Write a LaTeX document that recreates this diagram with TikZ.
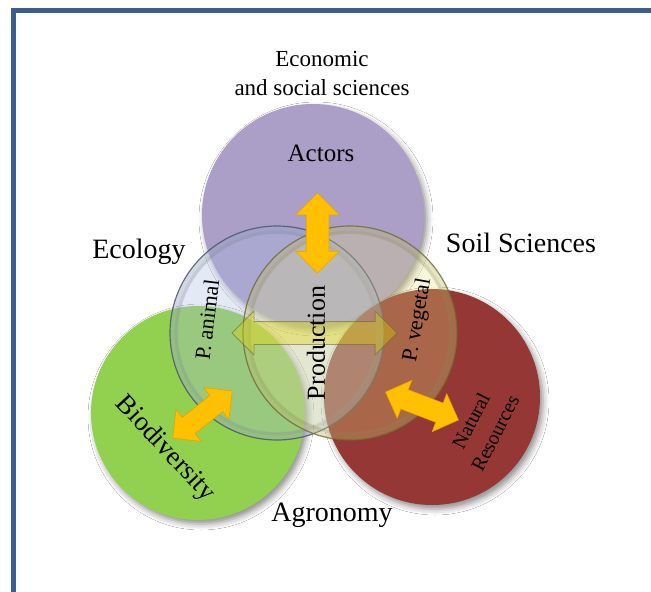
\documentclass[tikz,border=0pt]{standalone}
\usepackage{fontspec}
\setmainfont{Liberation Serif}
\usetikzlibrary{shapes.arrows,shadows.blur}
\definecolor{framec}{HTML}{3C5E8E}
\definecolor{purpc}{HTML}{AB9EC7}
\definecolor{greenc}{HTML}{92D050}
\definecolor{redc}{HTML}{953735}
\definecolor{orangec}{HTML}{FFC000}
\definecolor{orangeedge}{HTML}{E8A200}
\definecolor{blueglass}{HTML}{A9BDE3}
\definecolor{blueedge}{HTML}{46526A}
\definecolor{yelglass}{HTML}{E4E27A}
\definecolor{yeledge}{HTML}{6E6C30}
\tikzset{
  disc/.style={blur shadow={shadow xshift=3pt,shadow yshift=-4pt,shadow blur radius=6pt,shadow opacity=45}},
  dblarrow/.style={double arrow, draw=orangeedge, fill=orangec, line width=0.6pt,
     inner xsep=0pt, inner ysep=10pt, double arrow head extend=10pt},
  lbl/.style={inner sep=0pt, text=black},
}
\begin{document}
\begin{tikzpicture}[x=1pt,y=1pt]
\useasboundingbox (0,0) rectangle (651,-592);
\fill[white] (0,0) rectangle (651,-592);
% frame
\draw[framec, line width=5pt] (13.5,-620) -- (13.5,-10) -- (670,-10);
% opaque discs
\fill[purpc, disc] (313,-215) circle (111pt);
\fill[greenc, disc] (198,-413) circle (107pt);
\fill[redc, disc] (432,-397) circle (108pt);
% glass discs
\fill[blueglass, fill opacity=0.32] (277,-333) circle (107pt);
\draw[blueedge!70, line width=8pt, opacity=0.16] (277,-333) circle (103pt);
\draw[blueedge!70, line width=3pt, opacity=0.16] (277,-333) circle (101pt);
\draw[blueedge, line width=1.2pt, opacity=0.8] (277,-333) circle (107pt);
\fill[yelglass, fill opacity=0.28] (350,-333) circle (107pt);
\draw[yeledge!80, line width=8pt, opacity=0.16] (350,-333) circle (103pt);
\draw[yeledge!80, line width=3pt, opacity=0.16] (350,-333) circle (101pt);
\draw[yeledge, line width=1.2pt, opacity=0.8] (350,-333) circle (107pt);
% arrows
\node[dblarrow, inner ysep=11pt, double arrow head extend=10.5pt, minimum height=80pt, rotate=90] (arrA) at (317.5,-233) {};
\node[double arrow, draw=yeledge, fill=yellow!75!olive, fill opacity=0.35, draw opacity=0.6,
      line width=0.8pt, inner xsep=0pt, inner ysep=11pt, double arrow head extend=10.5pt,
      minimum height=165pt] (arrP) at (314.5,-333) {};
\node[dblarrow, minimum height=76pt, rotate=38.5] (arrB) at (202.5,-414.5) {};
\node[dblarrow, minimum height=78pt, rotate=-21] (arrN) at (422,-406) {};
% texts
\node[lbl, align=center, font=\fontsize{23}{29}\selectfont] (eco) at (322,-73) {Economic\\and social sciences};
\node[lbl, font=\fontsize{25}{30}\selectfont] (act) at (321,-153) {Actors};
\node[lbl, font=\fontsize{28}{32}\selectfont] (ecol) at (139,-252) {Ecology};
\node[lbl, font=\fontsize{28}{32}\selectfont] (soil) at (521,-243) {Soil Sciences};
\node[lbl, font=\fontsize{28}{32}\selectfont] (agro) at (332,-515) {Agronomy};
\node[lbl, rotate=90, font=\fontsize{26}{30}\selectfont] (prod) at (316,-343) {Production};
\node[lbl, rotate=83, font=\fontsize{22}{25}\selectfont] (pan) at (207,-320) {P. animal};
\node[lbl, rotate=80, font=\fontsize{22}{25}\selectfont] (pveg) at (418,-320) {P. vegetal};
\node[lbl, rotate=-47, font=\fontsize{27}{30}\selectfont] (bio) at (165,-449) {Biodiversity};
\node[lbl, rotate=63, align=center, font=\fontsize{20}{27}\selectfont] (nat) at (483,-427) {Natural\\Resources};
\end{tikzpicture}
\end{document}
